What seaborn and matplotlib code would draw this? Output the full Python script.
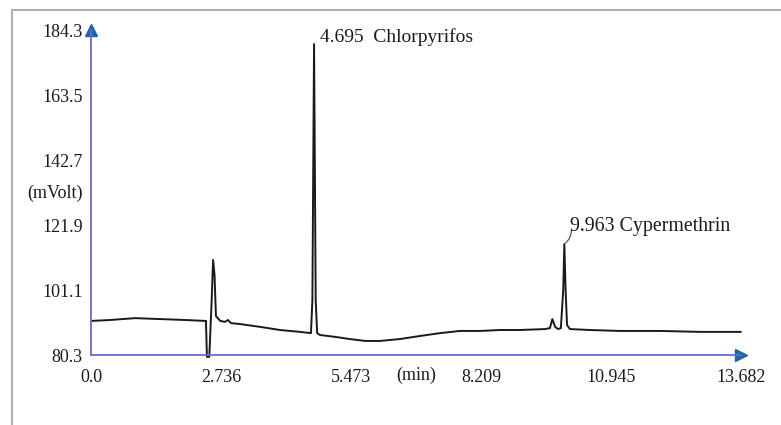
import numpy as np
import pandas as pd
import matplotlib
matplotlib.use('Agg')
import matplotlib.pyplot as plt
import seaborn as sns
from matplotlib.lines import Line2D

# chromatogram trace (time in min, signal in mVolt)
time_min = [0.00, 0.40, 0.93, 1.45, 1.98, 2.42, 2.44, 2.49, 2.54, 2.57, 2.60, 2.63,
            2.72, 2.82, 2.88, 2.95, 3.14, 3.56, 3.98, 4.40, 4.63, 4.66, 4.695, 4.73,
            4.76, 4.82, 5.14, 5.45, 5.77, 6.08, 6.50, 6.93, 7.35, 7.77, 8.19, 8.61,
            9.03, 9.56, 9.66, 9.71, 9.77, 9.83, 9.89, 9.94, 9.963, 9.99, 10.02, 10.08,
            10.50, 11.13, 11.98, 12.82, 13.68]
signal_mv = [91.2, 91.5, 92.1, 91.8, 91.5, 91.2, 79.7, 79.7, 97.9, 110.7, 105.9, 92.8,
             91.2, 90.9, 91.5, 90.5, 90.2, 89.3, 88.3, 87.7, 87.3, 97.9, 179.8, 97.9,
             87.3, 86.7, 86.1, 85.4, 84.8, 84.8, 85.4, 86.4, 87.3, 88.0, 88.0, 88.3,
             88.3, 88.6, 88.9, 91.8, 89.3, 88.6, 88.9, 101.1, 115.8, 101.1, 89.9, 88.6,
             88.3, 88.0, 88.0, 87.7, 87.7]

peak_times = [4.695, 9.963]
peak_heights = [179.8, 115.8]
peak_names = ['Chlorpyrifos', 'Cypermethrin']

x_ticks = [0.0, 2.736, 5.473, 8.209, 10.945, 13.682]
x_minor = [1.368, 4.104, 6.841, 9.577, 12.313]
y_ticks = [80.3, 101.1, 121.9, 142.7, 163.5, 184.3]

df = pd.DataFrame({'time': time_min, 'signal': signal_mv})

sns.set_style('white')
plt.rcParams['font.family'] = ['Liberation Serif', 'DejaVu Serif']

axis_col = '#6a6acd'
arrow_col = '#1f66a6'
text_col = '#1a1a1a'

fig = plt.figure(figsize=(7.81, 4.25), dpi=100)
ax = fig.add_axes([91/781, 70/425, 650/781, 325/425])

sns.lineplot(data=df, x='time', y='signal', ax=ax, color='#1a1a1a', linewidth=1.4)
for ln in ax.lines:
    ln.set_clip_on(False)

ax.set_xlim(x_ticks[0], x_ticks[-1])
ax.set_ylim(y_ticks[0], y_ticks[-1])

for s in ['top', 'right']:
    ax.spines[s].set_visible(False)
for s in ['left', 'bottom']:
    ax.spines[s].set_color(axis_col)
    ax.spines[s].set_linewidth(1.3)

ax.set_xticks(x_ticks)
ax.set_xticklabels(['0.0', '2.736', '5.473', '8.209', '10.945', '13.682'])
ax.set_xticks(x_minor, minor=True)
ax.set_yticks(y_ticks)
ax.set_yticklabels([f'{v:.1f}' for v in y_ticks])
ax.tick_params(axis='both', which='both', direction='out', color=axis_col,
               width=1.3, labelsize=13, labelcolor=text_col)
ax.tick_params(axis='x', which='both', length=8, pad=2)
ax.tick_params(axis='y', length=6, pad=0)
# no tick marks under the arrow heads
ax.xaxis.get_major_ticks()[-1].tick1line.set_visible(False)
ax.yaxis.get_major_ticks()[-1].tick1line.set_visible(False)
ax.set_xlabel('')
ax.set_ylabel('')

# arrow heads at the axis ends
ax.plot([0], [1], marker='^', markersize=8, color=arrow_col,
        transform=ax.transAxes, clip_on=False)
ax.plot([1], [0], marker='>', markersize=8, color=arrow_col,
        transform=ax.transAxes, clip_on=False)

# unit labels
ax.text(-0.013, 0.497, '(mVolt)', transform=ax.transAxes, ha='right', va='center',
        fontsize=13, color=text_col)
ax.text(0.5, -0.063, '(min)', transform=ax.transAxes, ha='center', va='center',
        fontsize=13, color=text_col)

# peak labels
ax.annotate(f'{peak_times[0]:.3f}  {peak_names[0]}', xy=(peak_times[0], peak_heights[0]),
            xytext=(4, 5), textcoords='offset points', ha='left', va='center',
            fontsize=14, color=text_col)
ax.annotate(f'{peak_times[1]:.3f} {peak_names[1]}', xy=(peak_times[1], peak_heights[1]),
            xytext=(4, 13), textcoords='offset points', ha='left', va='center',
            fontsize=14.3, color=text_col,
            arrowprops=dict(arrowstyle='-', color='#444444', lw=0.8,
                            shrinkA=0, shrinkB=1, relpos=(0.01, 0.3), patchA=None,
                            connectionstyle='arc3,rad=-0.25'))

# outer frame of the original figure (top and left only)
fig.add_artist(Line2D([12/781, 1.0], [1 - 10/425, 1 - 10/425], color='#b0b0b0', lw=1.5))
fig.add_artist(Line2D([12/781, 12/781], [0.0, 1 - 10/425], color='#b0b0b0', lw=1.5))

fig.savefig('out.png', dpi=100)
